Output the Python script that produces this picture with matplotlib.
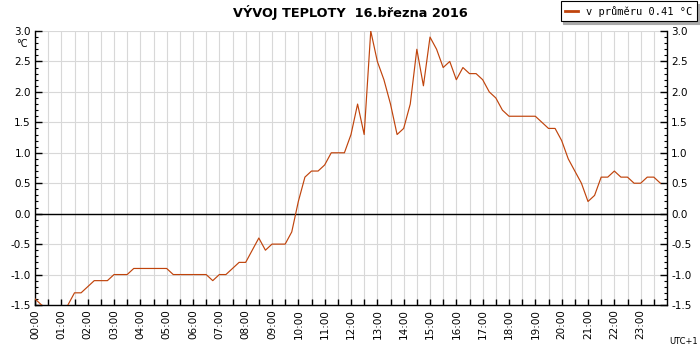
import matplotlib
matplotlib.use("Agg")
import matplotlib.pyplot as plt
import numpy as np

plt.rcParams['axes.unicode_minus'] = False
plt.rcParams['font.family'] = ['DejaVu Sans']

# Temperature every 15 minutes, 00:00 .. 23:45
temps = [
    -1.4, -1.5, -1.6, -1.6, -1.6, -1.5, -1.3, -1.3, -1.2, -1.1,
    -1.1, -1.1, -1.0, -1.0, -1.0, -0.9, -0.9, -0.9, -0.9, -0.9,
    -0.9, -1.0, -1.0, -1.0, -1.0, -1.0, -1.0, -1.1, -1.0, -1.0,
    -0.9, -0.8, -0.8, -0.6, -0.4, -0.6, -0.5, -0.5, -0.5, -0.3,
    0.2, 0.6, 0.7, 0.7, 0.8, 1.0, 1.0, 1.0, 1.3, 1.8,
    1.3, 3.0, 2.5, 2.2, 1.8, 1.3, 1.4, 1.8, 2.7, 2.1,
    2.9, 2.7, 2.4, 2.5, 2.2, 2.4, 2.3, 2.3, 2.2, 2.0,
    1.9, 1.7, 1.6, 1.6, 1.6, 1.6, 1.6, 1.5, 1.4, 1.4,
    1.2, 0.9, 0.7, 0.5, 0.2, 0.3, 0.6, 0.6, 0.7, 0.6,
    0.6, 0.5, 0.5, 0.6, 0.6, 0.5,
]
hours = [i * 0.25 for i in range(len(temps))]
hour_labels = [f"{h:02d}:00" for h in range(24)]
y_ticks = [-1.5, -1.0, -0.5, 0.0, 0.5, 1.0, 1.5, 2.0, 2.5, 3.0]
title = "VÝVOJ TEPLOTY  16.března 2016"
legend_label = "v průměru 0.41 °C"

line_color = '#c0440c'
grid_color = '#d8d8d8'

fig = plt.figure(figsize=(7, 3.5), dpi=100)
ax = fig.add_axes([35/700, 45/350, 632/700, 274/350])

ax.plot(hours, temps, color=line_color, lw=0.85, label=legend_label, zorder=3)
ax.axhline(0, color='black', lw=1.0, zorder=2)

ax.set_xlim(0, 24)
ax.set_ylim(-1.5, 3.0)

ax.set_xticks(range(24))
ax.set_xticklabels(hour_labels, rotation=90, fontsize=7.5)
ax.set_xticks(np.arange(0.5, 24, 1.0), minor=True)
ax.set_yticks(y_ticks)
ax.set_yticklabels([f"{v:.1f}" for v in y_ticks], fontsize=7.5)
ax.set_yticks(np.arange(-1.5, 3.01, 0.1), minor=True)

ax.tick_params(axis='x', which='both', direction='in', length=4, width=1, pad=3, top=False)
ax.tick_params(axis='y', which='major', direction='in', length=5, width=1, right=True,
               labelright=True, labelleft=True, pad=3)
ax.tick_params(axis='y', which='minor', direction='in', length=2.5, width=0.8, right=True)

ax.grid(True, which='major', axis='both', color=grid_color, lw=0.8, zorder=0)
ax.grid(True, which='minor', axis='x', color=grid_color, lw=0.8, zorder=0)
ax.set_axisbelow(True)

ax.spines['top'].set_visible(False)
for s in ['left', 'right', 'bottom']:
    ax.spines[s].set_color('black')
    ax.spines[s].set_linewidth(1.0)

fig.text(350/700, 1 - 13/350, title, ha='center', va='center', fontsize=9.3, fontweight='bold')
fig.text(22/700, 1 - 44/350, "°C", ha='center', va='center', fontsize=7)
fig.text(684/700, 1 - 341/350, "UTC+1", ha='center', va='center', fontsize=6)

leg = fig.legend(loc='upper right', bbox_to_anchor=(697/700, 1 - 1/350),
                 prop={'family': 'DejaVu Sans Mono', 'size': 7.5},
                 frameon=True, fancybox=False, shadow={'color': '#aaaaaa', 'alpha': 1.0},
                 handlelength=1.2, handletextpad=0.8, borderpad=0.45, borderaxespad=0)
leg.get_frame().set_edgecolor('black')
leg.get_frame().set_linewidth(0.8)
for l in leg.get_lines():
    l.set_linewidth(2.0)

fig.savefig("out.png", dpi=100)
